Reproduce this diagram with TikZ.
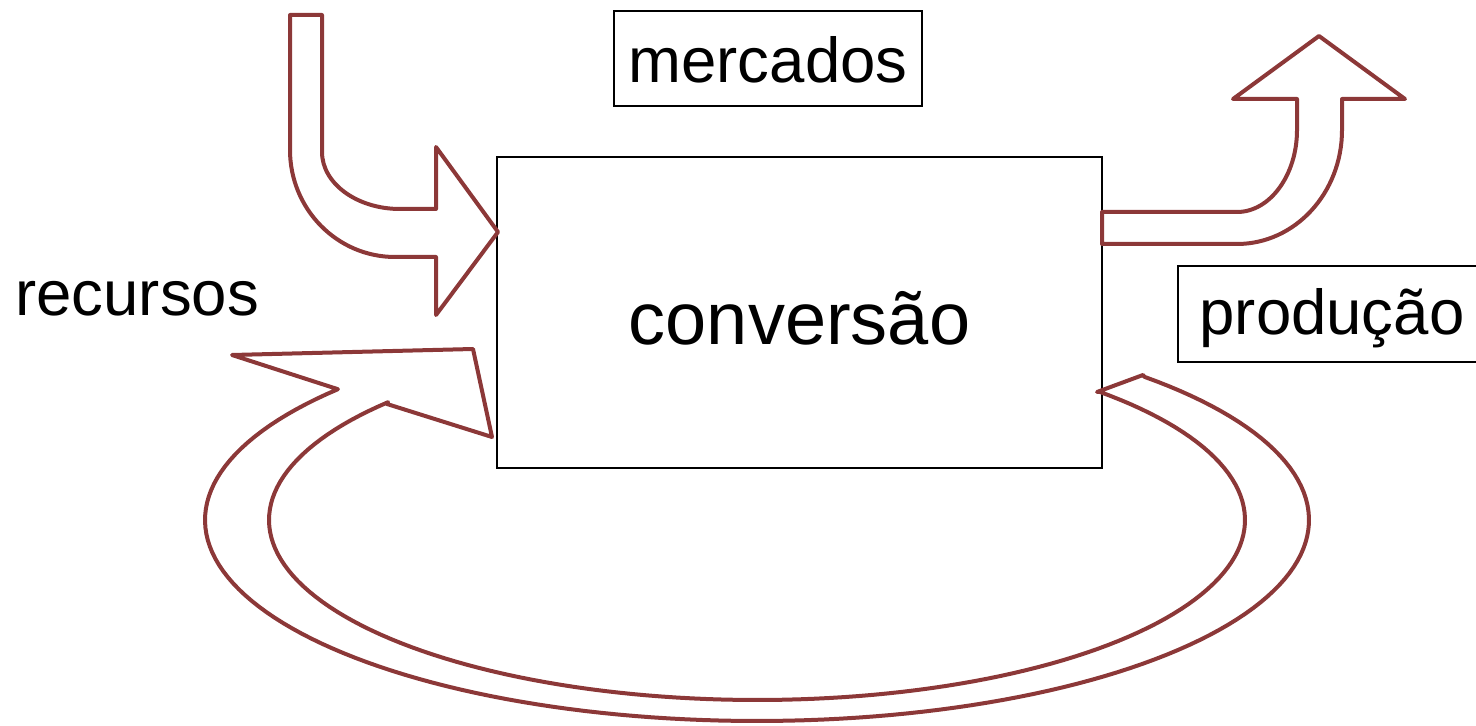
\documentclass[tikz,border=0pt]{standalone}
\usepackage{fontspec}
\setmainfont{Liberation Sans}
\definecolor{arrowred}{RGB}{140,56,56}
\begin{document}
\begin{tikzpicture}[x=0.5pt,y=-0.5pt,
  blockarrow/.style={draw=arrowred,line width=2pt,line join=round,fill=none},
  framebox/.style={draw=black,line width=1pt,inner sep=0pt},
  plainlabel/.style={inner sep=0pt,font=\fontsize{31.75}{38}\selectfont}]
\useasboundingbox (0,0) rectangle (1476,726);
% boxes
\node[framebox,minimum width=302.5pt,minimum height=155.5pt] (conv) at (799.5,312.5) {};
\node[plainlabel,font=\fontsize{37}{44}\selectfont] (convtext) at ([yshift=-3pt]conv.center) {conversão};
\node[framebox,minimum width=154pt,minimum height=47.5pt] (merc) at (768,58.5) {};
\node[plainlabel] (merctext) at ([yshift=-0.5pt]merc.center) {mercados};
\node[framebox,minimum width=154pt,minimum height=48pt] (prod) at (1332,314) {};
\node[plainlabel] (prodtext) at ([yshift=-2pt]prod.center) {produção};
\node[plainlabel,anchor=base west] (rec) at (15,316) {recursos};
% bent arrow from top left (recursos into conversão)
\draw[blockarrow] (290,15) -- (322,15) -- (322,152)
  .. controls (322,183.5) and (357,209) .. (400,209)
  -- (436,209) -- (436,147) -- (498,232) -- (436,315) -- (436,257) -- (395,257)
  .. controls (337,257) and (290,209) .. (290,150) -- cycle;
% bent arrow up right (produção out of conversão)
\draw[blockarrow] (1102,212) -- (1237,212)
  .. controls (1270,212) and (1297,175) .. (1297,130)
  -- (1297,99) -- (1233,99) -- (1319,36) -- (1405,99) -- (1342,99) -- (1342,130)
  .. controls (1342,193) and (1295,244) .. (1237,244)
  -- (1102,244) -- cycle;
% circular feedback arrow
\draw[blockarrow] (1097,392) -- (1143,375)
  -- plot[domain=-45.4:220.6,samples=150] ({757+552*cos(\x)},{520+201*sin(\x)})
  -- (232,355) -- (473,349) -- (492,437) -- (387,404)
  -- plot[domain=220.9:-45.4,samples=150] ({757+488*cos(\x)},{520+180*sin(\x)})
  -- cycle;
\end{tikzpicture}
\end{document}
